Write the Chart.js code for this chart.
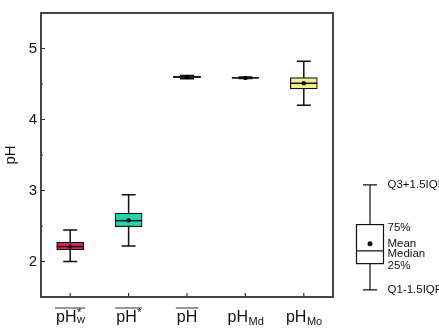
<!DOCTYPE html>
<html>
<head>
<meta charset="utf-8">
<script src="https://cdn.jsdelivr.net/npm/chart.js@4"></script>
<style>
  html, body { margin: 0; padding: 0; background: #fff; }
</style>
</head>
<body>
<canvas id="chart1" width="439" height="330"></canvas>
<script>
// data
const categories = ["pHw*", "pH*", "pH", "pHMd", "pHMo"];
const whiskerLow = [2.0, 2.22, 4.575, 4.576, 4.2];
const q1 = [2.165, 2.49, 4.588, 4.581, 4.43];
const medians = [2.21, 2.575, 4.598, 4.586, 4.51];
const q3 = [2.27, 2.68, 4.61, 4.592, 4.59];
const whiskerHigh = [2.445, 2.94, 4.62, 4.597, 4.82];
const means = [2.21, 2.58, 4.598, 4.586, 4.51];
const boxColors = ["#e8245a", "#1fd6ae", "#555555", "#555555", "#f6ef8c"];

// tick labels
const yTicks = [2, 3, 4, 5];
const yMinor = [2.5, 3.5, 4.5];
const labelMain = ["pH", "pH", "pH", "pH", "pH"];
const labelSup = ["*", "*", "", "", ""];
const labelSub = ["w", "", "", "Md", "Mo"];
const labelBar = [true, true, true, false, false];

// legend key (values on the pH axis where the key sits)
const legendText = ["Q3+1.5IQR", "75%", "Mean", "Median", "25%", "Q1-1.5IQR"];
const legendLevels = { top: 3.08, q3: 2.52, mean: 2.25, median: 2.15, q1: 1.97, bottom: 1.6 };

const FONT = "Liberation Sans, Arial, sans-serif";
const CAP = 14;

const boxPlugin = {
  id: "boxParts",
  beforeDatasetsDraw(chart) {
    const ctx = chart.ctx;
    const y = chart.scales.y;
    const meta = chart.getDatasetMeta(0);
    ctx.save();
    ctx.strokeStyle = "#111";
    ctx.lineWidth = 1.5;
    meta.data.forEach((bar, i) => {
      const x = bar.x;
      ctx.beginPath();
      ctx.moveTo(x, y.getPixelForValue(whiskerLow[i]));
      ctx.lineTo(x, y.getPixelForValue(whiskerHigh[i]));
      ctx.moveTo(x - CAP / 2, y.getPixelForValue(whiskerLow[i]));
      ctx.lineTo(x + CAP / 2, y.getPixelForValue(whiskerLow[i]));
      ctx.moveTo(x - CAP / 2, y.getPixelForValue(whiskerHigh[i]));
      ctx.lineTo(x + CAP / 2, y.getPixelForValue(whiskerHigh[i]));
      ctx.stroke();
    });
    ctx.restore();
  },
  afterDatasetDraw(chart, args) {
    if (args.index !== 0) return;
    const ctx = chart.ctx;
    const y = chart.scales.y;
    ctx.save();
    ctx.strokeStyle = "#111";
    ctx.lineWidth = 1.5;
    args.meta.data.forEach((bar, i) => {
      const py = y.getPixelForValue(medians[i]);
      ctx.beginPath();
      ctx.moveTo(bar.x - bar.width / 2, py);
      ctx.lineTo(bar.x + bar.width / 2, py);
      ctx.stroke();
    });
    ctx.restore();
  },
  afterDraw(chart) {
    const ctx = chart.ctx;
    const a = chart.chartArea;
    const xs = chart.scales.x;
    const ys = chart.scales.y;
    ctx.save();
    // frame
    ctx.strokeStyle = "#333";
    ctx.lineWidth = 1.8;
    ctx.strokeRect(a.left, a.top, a.right - a.left, a.bottom - a.top);
    // inward ticks
    ctx.lineWidth = 1.2;
    ctx.beginPath();
    yTicks.forEach(v => {
      const p = ys.getPixelForValue(v);
      ctx.moveTo(a.left, p); ctx.lineTo(a.left + 4, p);
    });
    yMinor.forEach(v => {
      const p = ys.getPixelForValue(v);
      ctx.moveTo(a.left, p); ctx.lineTo(a.left + 2, p);
    });
    categories.forEach((c, i) => {
      const p = xs.getPixelForValue(i);
      ctx.moveTo(p, a.bottom); ctx.lineTo(p, a.bottom - 4);
    });
    ctx.stroke();

    // x labels with overline / scripts
    ctx.fillStyle = "#111";
    ctx.textBaseline = "alphabetic";
    ctx.textAlign = "left";
    const base = a.bottom + 25;
    categories.forEach((c, i) => {
      const cx = xs.getPixelForValue(i);
      ctx.font = "16px " + FONT;
      const mw = ctx.measureText(labelMain[i]).width;
      ctx.font = "11px " + FONT;
      const sw = Math.max(ctx.measureText(labelSup[i]).width, ctx.measureText(labelSub[i]).width);
      const left = cx - (mw + sw) / 2;
      ctx.font = "16px " + FONT;
      ctx.fillText(labelMain[i], left, base);
      ctx.font = "11px " + FONT;
      if (labelSup[i]) ctx.fillText(labelSup[i], left + mw + 0.5, base - 6);
      if (labelSub[i]) ctx.fillText(labelSub[i], left + mw + 0.5, base + (labelSup[i] ? 1 : 3));
      if (labelBar[i]) {
        ctx.lineWidth = 1;
        ctx.beginPath();
        ctx.moveTo(left - 1, base - 14);
        ctx.lineTo(left + mw + sw + 1, base - 14);
        ctx.stroke();
      }
    });

    // box legend on the right
    const bx = a.right + 37;
    const bw = 27;
    const L = legendLevels;
    const top = ys.getPixelForValue(L.top);
    const bot = ys.getPixelForValue(L.bottom);
    const bTop = ys.getPixelForValue(L.q3);
    const bBot = ys.getPixelForValue(L.q1);
    const bMed = ys.getPixelForValue(L.median);
    const bMean = ys.getPixelForValue(L.mean);
    ctx.strokeStyle = "#111";
    ctx.lineWidth = 1.2;
    ctx.beginPath();
    ctx.moveTo(bx, top); ctx.lineTo(bx, bTop);
    ctx.moveTo(bx, bBot); ctx.lineTo(bx, bot);
    ctx.moveTo(bx - CAP / 2, top); ctx.lineTo(bx + CAP / 2, top);
    ctx.moveTo(bx - CAP / 2, bot); ctx.lineTo(bx + CAP / 2, bot);
    ctx.moveTo(bx - bw / 2, bMed); ctx.lineTo(bx + bw / 2, bMed);
    ctx.stroke();
    ctx.strokeRect(bx - bw / 2, bTop, bw, bBot - bTop);
    ctx.beginPath();
    ctx.arc(bx, bMean, 2.5, 0, Math.PI * 2);
    ctx.fill();
    ctx.font = "11.5px " + FONT;
    ctx.textBaseline = "middle";
    const tx = bx + bw / 2 + 4;
    const ty = [top, bTop + 3, bMean, bMed + 3, bBot + 2, bot];
    legendText.forEach((t, i) => ctx.fillText(t, tx, ty[i]));
    ctx.restore();
  }
};

const ctx1 = document.getElementById("chart1").getContext("2d");

const chart1 = new Chart(ctx1, {
  type: "bar",
  data: {
    labels: categories,
    datasets: [
      {
        type: "bar",
        data: q1.map((v, i) => [v, q3[i]]),
        backgroundColor: boxColors,
        borderColor: "#111",
        borderWidth: 1.2,
        borderSkipped: false,
        barThickness: 27,
        order: 2,
      },
      {
        type: "line",
        data: means,
        showLine: false,
        pointRadius: 2.2,
        pointBackgroundColor: "#000",
        pointBorderWidth: 0,
        order: 1,
      },
    ],
  },
  options: {
    responsive: false,
    animation: false,
    devicePixelRatio: 1,
    layout: { padding: { top: 6, right: 106, left: 0, bottom: 0 } },
    plugins: { legend: { display: false }, tooltip: { enabled: false } },
    scales: {
      x: {
        offset: true,
        grid: { display: false },
        border: { display: false },
        ticks: { display: false },
        afterFit: (s) => { s.height = 33; },
      },
      y: {
        min: 1.5,
        max: 5.5,
        afterBuildTicks: (s) => { s.ticks = yTicks.map(v => ({ value: v })); },
        grid: { display: false, drawTicks: false },
        border: { display: false },
        ticks: { color: "#111", padding: 4, font: { size: 15, family: FONT } },
        title: { display: true, text: "pH", color: "#111", font: { size: 15, family: FONT }, padding: 2 },
        afterFit: (s) => { s.width = 41; },
      },
    },
  },
  plugins: [boxPlugin],
});
</script>
</body>
</html>
